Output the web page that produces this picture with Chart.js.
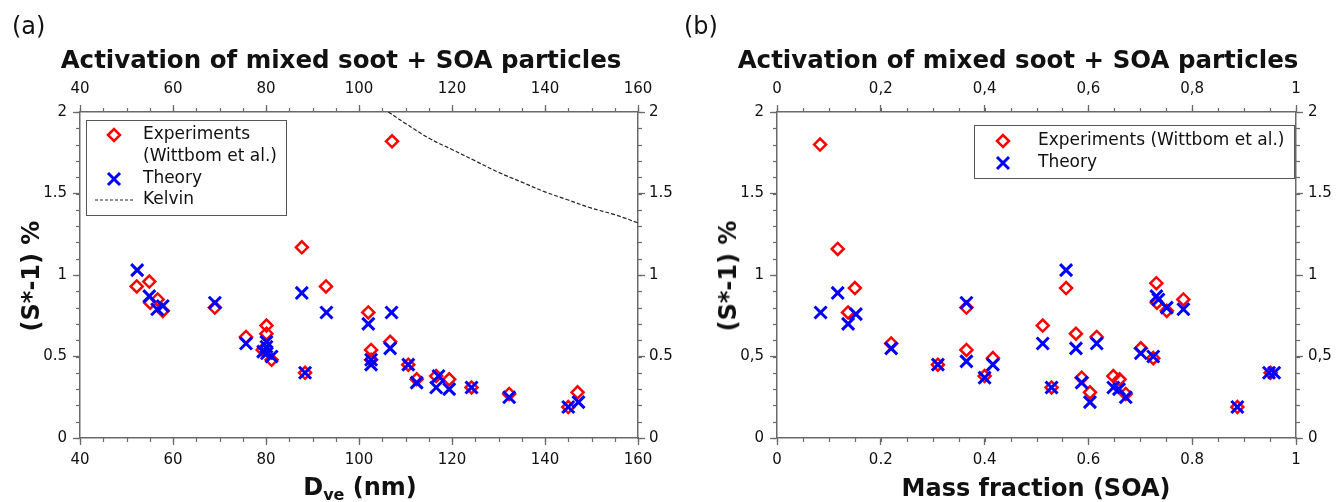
<!DOCTYPE html>
<html>
<head>
<meta charset="utf-8">
<script src="https://cdn.jsdelivr.net/npm/chart.js@4.4.1/dist/chart.umd.min.js"></script>
<style>
  body { margin:0; width:1336px; height:502px; background:#fff; position:relative; overflow:hidden; font-family:"DejaVu Sans", Verdana, sans-serif; color:#111; }
  .panel { position:absolute; top:0; height:502px; }
  .txt { position:absolute; white-space:nowrap; }
  .letter { font-size:24px; }
  .title { font-size:24.5px; font-weight:bold; text-align:center; }
  .xtitle { font-size:24px; font-weight:bold; transform:translate(-50%,-50%); }
  .ytitle { font-size:24px; font-weight:bold; transform:translate(-50%,-50%) rotate(-90deg); }
  .xtitle sub { font-size:16px; vertical-align:-5px; }
</style>
</head>
<body>
<div class="panel" style="left:0;width:690px"><canvas id="chartA"></canvas></div>
<div class="panel" style="left:690px;width:646px"><canvas id="chartB"></canvas></div>

<div class="txt letter" style="left:12px;top:12px">(a)</div>
<div class="txt letter" style="left:684px;top:12px">(b)</div>
<div class="txt title" style="left:0;width:682px;top:45px">Activation of mixed soot + SOA particles</div>
<div class="txt title" style="left:690px;width:656px;top:45px">Activation of mixed soot + SOA particles</div>
<div class="txt ytitle" style="left:31px;top:276px">(S*-1) %</div>
<div class="txt ytitle" style="left:728px;top:276px">(S*-1) %</div>
<div class="txt xtitle" style="left:360px;top:488px">D<sub>ve</sub> (nm)</div>
<div class="txt xtitle" style="left:1036px;top:488px">Mass fraction (SOA)</div>

<script>
// panel (a): activation vs volume-equivalent diameter
const dveExp  = [52.2, 54.9, 55.1, 56.7, 57.8, 69.0, 75.7, 79.3, 80.1, 80.1, 81.2, 87.7, 88.4, 92.9,
                 102.0, 102.6, 102.6, 106.7, 107.1, 110.6, 112.4, 116.6, 119.4, 124.2, 132.3, 145.0, 147.0];
const sExpA   = [0.93, 0.96, 0.83, 0.85, 0.78, 0.80, 0.62, 0.54, 0.69, 0.64, 0.48, 1.17, 0.40, 0.93,
                 0.77, 0.54, 0.48, 0.59, 1.82, 0.45, 0.36, 0.38, 0.36, 0.31, 0.27, 0.19, 0.28];
const dveTheo = [52.3, 54.9, 56.6, 57.8, 69.0, 75.7, 79.4, 80.1, 80.1, 80.2, 81.2, 87.7, 88.4, 93.0,
                 102.0, 102.6, 102.6, 106.7, 107.0, 110.6, 112.4, 116.6, 117.1, 119.4, 124.2, 132.3, 145.0, 147.2];
const sTheoA  = [1.03, 0.87, 0.79, 0.81, 0.83, 0.58, 0.53, 0.59, 0.56, 0.52, 0.50, 0.89, 0.40, 0.77,
                 0.70, 0.48, 0.45, 0.55, 0.77, 0.45, 0.34, 0.31, 0.38, 0.30, 0.31, 0.25, 0.19, 0.22];
const kelvinD = [106.3, 110, 115, 120, 125, 130, 135, 140, 145, 150, 155, 160];
const kelvinS = [2.00, 1.93, 1.84, 1.77, 1.70, 1.63, 1.57, 1.51, 1.46, 1.41, 1.37, 1.32];

// panel (b): activation vs SOA mass fraction
const mfExp   = [0.083, 0.117, 0.150, 0.137, 0.220, 0.310, 0.365, 0.365, 0.400, 0.416, 0.512, 0.529, 0.557, 0.576,
                 0.587, 0.603, 0.616, 0.648, 0.660, 0.672, 0.701, 0.725, 0.731, 0.732, 0.751, 0.783, 0.887, 0.951];
const sExpB   = [1.80, 1.16, 0.92, 0.77, 0.58, 0.45, 0.80, 0.54, 0.38, 0.49, 0.69, 0.31, 0.92, 0.64,
                 0.37, 0.28, 0.62, 0.38, 0.36, 0.27, 0.55, 0.49, 0.95, 0.83, 0.78, 0.85, 0.19, 0.40];
const mfTheo  = [0.084, 0.117, 0.137, 0.152, 0.220, 0.310, 0.365, 0.365, 0.400, 0.416, 0.512, 0.529, 0.557, 0.576, 0.587,
                 0.603, 0.616, 0.648, 0.659, 0.672, 0.701, 0.725, 0.731, 0.735, 0.751, 0.783, 0.887, 0.948, 0.958];
const sTheoB  = [0.77, 0.89, 0.70, 0.76, 0.55, 0.45, 0.83, 0.47, 0.37, 0.45, 0.58, 0.31, 1.03, 0.55, 0.34,
                 0.22, 0.58, 0.31, 0.30, 0.25, 0.52, 0.50, 0.87, 0.85, 0.80, 0.79, 0.19, 0.40, 0.40];

// tick labels
const yLabelsA     = ['0', '0.5', '1', '1.5', '2'];
const yLabelsB     = ['0', '0,5', '1', '1.5', '2'];
const xLabelsA     = ['40', '60', '80', '100', '120', '140', '160'];
const xTopLabelsB  = ['0', '0,2', '0,4', '0,6', '0,8', '1'];
const xBotLabelsB  = ['0', '0.2', '0.4', '0.6', '0.8', '1'];

const AXIS = '#6a6a6a';
const INK = '#111';
const FONT = '"DejaVu Sans", Verdana, sans-serif';
const zip = (xs, ys) => xs.map((x, i) => ({ x, y: ys[i] }));

// small outward minor ticks between the major ones
const minorTicks = {
  id: 'minorTicks',
  afterDraw(chart, args, o) {
    const ctx = chart.ctx;
    ctx.save();
    ctx.strokeStyle = AXIS; ctx.lineWidth = 1.2;
    Object.values(chart.scales).forEach(s => {
      const step = s.isHorizontal() ? o.xStep : o.yStep;
      const n = Math.round((s.max - s.min) / step);
      for (let i = 0; i <= n; i++) {
        const p = Math.round(s.getPixelForValue(s.min + i * step)) + 0.5;
        ctx.beginPath();
        if (s.position === 'bottom') { ctx.moveTo(p, s.top); ctx.lineTo(p, s.top + 4); }
        if (s.position === 'top') { ctx.moveTo(p, s.bottom); ctx.lineTo(p, s.bottom - 4); }
        if (s.position === 'left') { ctx.moveTo(s.right, p); ctx.lineTo(s.right - 4, p); }
        if (s.position === 'right') { ctx.moveTo(s.left, p); ctx.lineTo(s.left + 4, p); }
        ctx.stroke();
      }
    });
    ctx.restore();
  }
};

// boxed legend inside the plot
const legendBox = {
  id: 'legendBox',
  afterDraw(chart, args, o) {
    const { ctx, chartArea } = chart;
    const x0 = o.anchor === 'left' ? chartArea.left + o.dx : chartArea.right - o.dx - o.w;
    const y0 = chartArea.top + o.dy;
    ctx.save();
    ctx.fillStyle = '#fff';
    ctx.fillRect(x0, y0, o.w, o.h);
    ctx.strokeStyle = '#555'; ctx.lineWidth = 1;
    ctx.strokeRect(Math.round(x0) + 0.5, Math.round(y0) + 0.5, o.w, o.h);
    o.items.forEach(it => {
      const cy = y0 + it.y;
      if (it.dash) {
        ctx.strokeStyle = '#222'; ctx.lineWidth = 1; ctx.setLineDash([3, 2]);
        ctx.beginPath(); ctx.moveTo(x0 + 9, cy); ctx.lineTo(x0 + 47, cy); ctx.stroke();
        ctx.setLineDash([]);
      } else {
        ctx.strokeStyle = it.color; ctx.fillStyle = 'rgba(0,0,0,0)'; ctx.lineWidth = it.bw;
        Chart.helpers.drawPoint(ctx, { pointStyle: it.style, radius: it.r, borderWidth: it.bw, rotation: 0 }, x0 + o.symX, cy);
      }
      ctx.fillStyle = INK; ctx.font = '17px ' + FONT; ctx.textBaseline = 'middle'; ctx.textAlign = 'left';
      it.text.forEach((t, k) => ctx.fillText(t, x0 + o.textX, cy + k * 22));
    });
    ctx.restore();
  }
};

function axis(position, min, max, step, labels, size, pad) {
  return {
    type: 'linear', position, min, max,
    ticks: { stepSize: step, color: INK, font: { family: FONT, size: 15 }, padding: pad,
             callback: (v, i) => labels[i], maxRotation: 0, autoSkip: false },
    grid: { drawOnChartArea: false, drawTicks: true, tickLength: 7, tickColor: AXIS, tickWidth: 1.3 },
    border: { display: true, color: AXIS, width: 1.5 },
    afterFit: s => { if (s.isHorizontal()) s.height = size; else s.width = size; },
  };
}

const expStyle  = { pointStyle: 'rectRot', pointRadius: 6, pointBorderWidth: 2.5, pointBorderColor: '#ff0000',
                    pointBackgroundColor: 'rgba(0,0,0,0)', showLine: false, order: 1 };
const theoStyle = { pointStyle: 'crossRot', pointRadius: 8.5, pointBorderWidth: 3, pointBorderColor: '#0000ff',
                    pointBackgroundColor: '#0000ff', showLine: false, order: 0 };

const common = {
  responsive: true, maintainAspectRatio: false, animation: false, devicePixelRatio: 1, events: [],
  layout: { padding: 0 },
};

new Chart(document.getElementById('chartA'), {
  type: 'scatter',
  data: { datasets: [
    { label: 'Experiments (Wittbom et al.)', data: zip(dveExp, sExpA), ...expStyle },
    { label: 'Theory', data: zip(dveTheo, sTheoA), ...theoStyle },
    { label: 'Kelvin', data: zip(kelvinD, kelvinS), showLine: true, pointRadius: 0, borderColor: '#222',
      borderWidth: 1.2, borderDash: [4, 2], tension: 0.4, order: 2 },
  ] },
  options: {
    ...common,
    scales: {
      x:  axis('bottom', 40, 160, 20, xLabelsA, 64, 6),
      x2: axis('top', 40, 160, 20, xLabelsA, 112, 7),
      y:  axis('left', 0, 2, 0.5, yLabelsA, 80, 6),
      y2: axis('right', 0, 2, 0.5, yLabelsA, 52, 4),
    },
    plugins: {
      legend: { display: false }, tooltip: { enabled: false }, title: { display: false },
      minorTicks: { xStep: 5, yStep: 0.1 },
      legendBox: { anchor: 'left', dx: 6, dy: 8, w: 200, h: 95, symX: 28, textX: 57, items: [
        { style: 'rectRot', r: 6, bw: 2.5, color: '#ff0000', y: 15, text: ['Experiments', '(Wittbom et al.)'] },
        { style: 'crossRot', r: 8.5, bw: 3, color: '#0000ff', y: 59, text: ['Theory'] },
        { dash: true, y: 80, text: ['Kelvin'] },
      ] },
    },
  },
  plugins: [minorTicks, legendBox],
});

new Chart(document.getElementById('chartB'), {
  type: 'scatter',
  data: { datasets: [
    { label: 'Experiments (Wittbom et al.)', data: zip(mfExp, sExpB), ...expStyle },
    { label: 'Theory', data: zip(mfTheo, sTheoB), ...theoStyle },
  ] },
  options: {
    ...common,
    scales: {
      x:  axis('bottom', 0, 1, 0.2, xBotLabelsB, 64, 6),
      x2: axis('top', 0, 1, 0.2, xTopLabelsB, 112, 7),
      y:  axis('left', 0, 2, 0.5, yLabelsB, 87, 6),
      y2: axis('right', 0, 2, 0.5, yLabelsB, 40, 5),
    },
    plugins: {
      legend: { display: false }, tooltip: { enabled: false }, title: { display: false },
      minorTicks: { xStep: 0.05, yStep: 0.1 },
      legendBox: { anchor: 'right', dx: 2, dy: 13, w: 320, h: 53, symX: 29, textX: 64, items: [
        { style: 'rectRot', r: 6, bw: 2.5, color: '#ff0000', y: 16, text: ['Experiments (Wittbom et al.)'] },
        { style: 'crossRot', r: 8.5, bw: 3, color: '#0000ff', y: 38, text: ['Theory'] },
      ] },
    },
  },
  plugins: [minorTicks, legendBox],
});
</script>
</body>
</html>
